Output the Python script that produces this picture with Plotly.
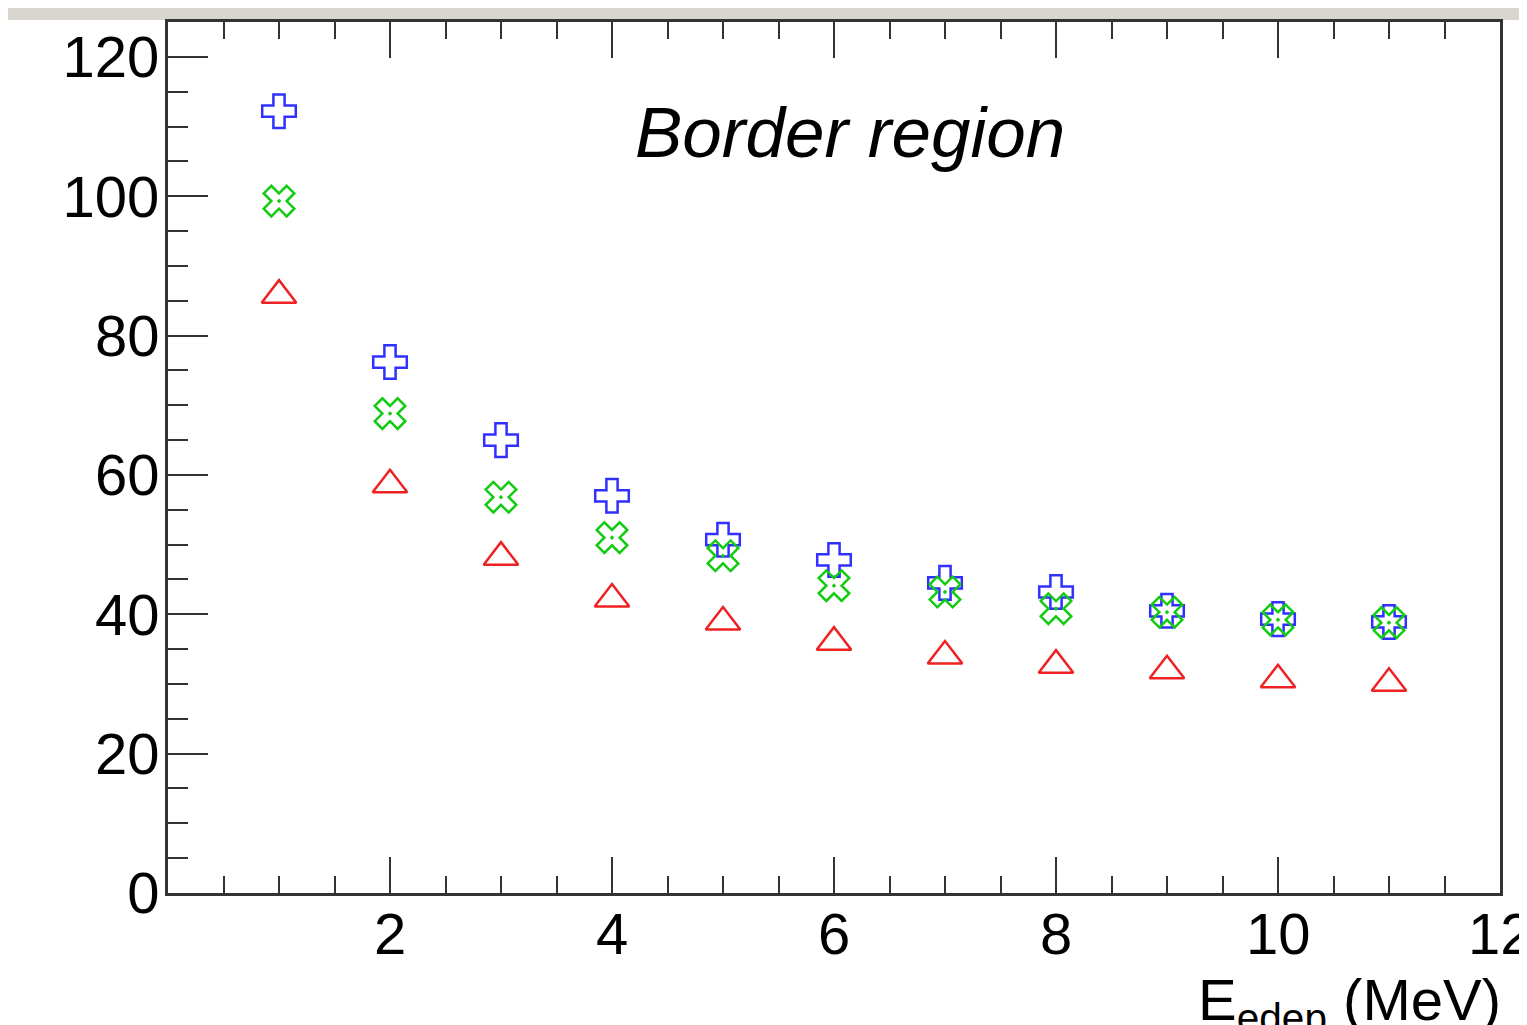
import plotly.graph_objects as go

energy = [1, 2, 3, 4, 5, 6, 7, 8, 9, 10, 11]
blue_vals = [112.2, 76.2, 65.0, 57.0, 50.7, 47.8, 44.5, 43.2, 40.5, 39.3, 38.9]
green_vals = [99.3, 68.8, 56.8, 51.0, 48.4, 44.1, 43.2, 40.8, 40.3, 39.2, 38.8]
red_vals = [85.8, 58.6, 48.2, 42.2, 38.9, 36.0, 34.0, 32.7, 31.9, 30.6, 30.1]

x_ticks = [2, 4, 6, 8, 10, 12]
y_ticks = [0, 20, 40, 60, 80, 100, 120]

fig = go.Figure()
fig.add_trace(go.Scatter(x=energy, y=blue_vals, mode="markers",
                         marker=dict(symbol="cross-open", size=28, color="#3030ff",
                                     line=dict(width=2.5, color="#3030ff"))))
fig.add_trace(go.Scatter(x=energy, y=green_vals, mode="markers",
                         marker=dict(symbol="x-open-dot", size=27, color="#11cc11",
                                     line=dict(width=2.5, color="#11cc11"))))
fig.add_trace(go.Scatter(x=energy, y=red_vals, mode="markers",
                         marker=dict(symbol="triangle-up-open", size=30, color="#ee2222",
                                     line=dict(width=2.5, color="#ee2222"))))

font_family = "Liberation Sans, Arial, sans-serif"

# the page body adds an 8 px offset; margins compensate
plot_h = 885 - 14

annotations = [
    dict(text="<i>Border region</i>", x=6.14, y=109.1, xref="x", yref="y",
         showarrow=False, font=dict(size=71, family=font_family), xanchor="center"),
    dict(text="E<sub>edep</sub> (MeV)", x=1.002, y=-0.083, xref="paper", yref="paper",
         showarrow=False, xanchor="right", yanchor="top",
         font=dict(size=58, family=font_family)),
]
for v in x_ticks:
    annotations.append(dict(text=str(v), x=v, y=0, xref="x", yref="paper",
                            yanchor="middle", xanchor="center", yshift=-40,
                            showarrow=False, font=dict(size=58, family=font_family)))

fig.update_layout(
    width=1527, height=1025,
    margin=dict(l=160, r=35, t=14, b=140),
    paper_bgcolor="white", plot_bgcolor="white",
    showlegend=False,
    font=dict(family=font_family, size=58, color="black"),
    xaxis=dict(range=[0, 12], tickvals=x_ticks, showticklabels=False,
               ticks="inside", ticklen=36, tickwidth=2, tickcolor="#333",
               showline=True, linecolor="#333", linewidth=3, mirror="ticks",
               showgrid=False, zeroline=False,
               minor=dict(dtick=0.5, ticks="inside", ticklen=17, tickwidth=2, tickcolor="#333")),
    yaxis=dict(range=[0, 125], tickvals=y_ticks, ticktext=[str(v) for v in y_ticks],
               ticks="inside", ticklen=40, tickwidth=2, tickcolor="#333",
               showline=True, linecolor="#333", linewidth=3, mirror=True,
               showgrid=False, zeroline=False, ticklabelstandoff=-6,
               minor=dict(dtick=5, ticks="inside", ticklen=20, tickwidth=2, tickcolor="#333"),
               tickfont=dict(size=58)),
    shapes=[dict(type="rect", xref="paper", yref="paper", x0=-0.2, x1=1.05,
                 y0=1.0 + 2 / plot_h, y1=1.0 + 20 / plot_h, fillcolor="#d9d6d0",
                 line=dict(width=0), layer="below")],
    annotations=annotations,
)

fig.write_html("out.html")
